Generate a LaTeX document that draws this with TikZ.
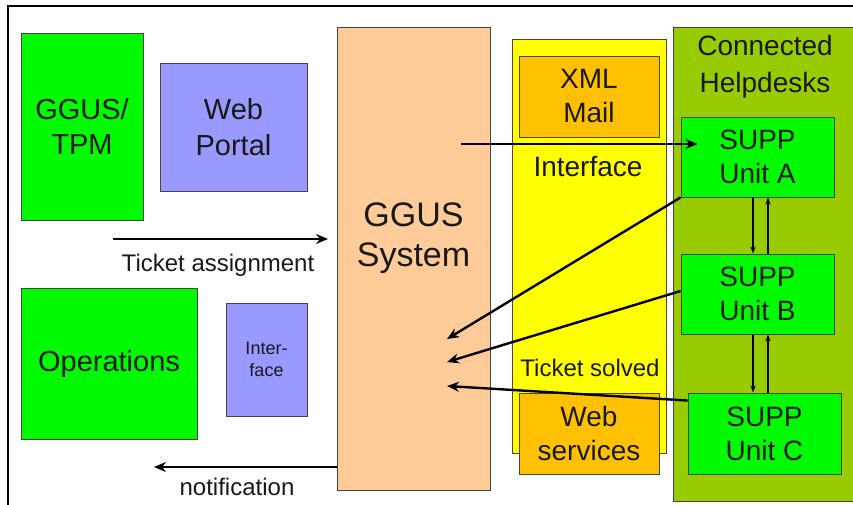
\documentclass[tikz,border=0pt]{standalone}
\usepackage{fontspec}
\setmainfont{Liberation Sans}
\usetikzlibrary{arrows.meta,calc}
\definecolor{brightgreen}{RGB}{0,250,0}
\definecolor{lav}{RGB}{153,153,255}
\definecolor{peach}{RGB}{255,204,153}
\definecolor{yel}{RGB}{255,255,0}
\definecolor{amber}{RGB}{255,192,0}
\definecolor{olivebg}{RGB}{153,204,0}
\definecolor{edge}{RGB}{70,70,60}
\newcommand{\fs}[2]{\fontsize{#1}{#2}\selectfont}
\begin{document}
\begin{tikzpicture}[x=1pt,y=-1pt,
  bx/.style={draw=edge, line width=0.9pt, inner sep=0pt, align=center, text=black!90},
  lbl/.style={inner sep=0pt, align=center, text=black!90},
  arr/.style={draw=black, line width=2.4pt, -{Stealth[length=12pt,width=10pt]}},
  thinarr/.style={draw=black, line width=1.5pt, -{Stealth[length=7pt,width=5pt]}}]
\clip (0,0) rectangle (853,505);
\fill[white] (0,0) rectangle (853,505);
% frame
\draw[line width=2pt] (8,505) -- (8,6) -- (860,6);
% left side
\node[bx, fill=brightgreen, minimum width=122pt, minimum height=187pt, font=\fs{29}{35}] (tpm) at (82,126.5) {GGUS/\\TPM};
\node[bx, fill=lav, minimum width=147pt, minimum height=128pt, font=\fs{29}{36}] (portal) at (233.5,127) {Web\\Portal};
\node[bx, fill=brightgreen, minimum width=176pt, minimum height=151pt, font=\fs{29}{34}] (ops) at (109,363.5) {Operations};
\node[bx, fill=lav, minimum width=81pt, minimum height=113pt, font=\fs{18}{22}] (intf) at (266.5,359.5) {Inter-\\face};
% GGUS system
\node[bx, fill=peach, minimum width=153pt, minimum height=463pt] (ggus) at (413.5,258.5) {};
\node[lbl, font=\fs{34}{40}] (gguslbl) at (413.5,238) {GGUS\\System};
% interface column
\node[bx, fill=yel, minimum width=154pt, minimum height=414pt] (yel) at (589,246) {};
\node[bx, fill=amber, minimum width=140pt, minimum height=81pt, font=\fs{28}{34}] (xml) at (589,96.5) {XML\\Mail};
\node[lbl, font=\fs{28}{33}] (iflbl) at (588,167) {Interface};
\node[lbl, font=\fs{24}{28}] (solved) at (590,368) {Ticket solved};
\node[bx, fill=amber, minimum width=140pt, minimum height=81pt, font=\fs{28}{34}] (ws) at (589,433.5) {Web\\services};
% connected helpdesks
\node[bx, fill=olivebg, minimum width=200pt, minimum height=474pt] (hd) at (773,264) {};
\node[lbl, font=\fs{28}{37}] (hdlbl) at (765,67) {Connected\\Helpdesks};
\node[bx, fill=brightgreen, minimum width=153pt, minimum height=80pt, font=\fs{28}{34}] (A) at (757.5,157) {SUPP\\Unit A};
\node[bx, fill=brightgreen, minimum width=153pt, minimum height=80pt, font=\fs{28}{34}] (B) at (757.5,294) {SUPP\\Unit B};
\node[bx, fill=brightgreen, minimum width=153pt, minimum height=81pt, font=\fs{28}{34}] (C) at (764.5,433.5) {SUPP\\Unit C};
% labels
\node[lbl, font=\fs{24}{28}] (talbl) at (218,265) {Ticket assignment};
\node[lbl, font=\fs{24}{28}] (notlbl) at (237,487) {notification};
% coordinates
\coordinate (taS) at (113,239);
\coordinate (taE) at (328,239);
\coordinate (notE) at (154,467);
\coordinate (outS) at (461,144);
\coordinate (t1) at (447,339);
\coordinate (t2) at (447,362);
\coordinate (t3) at (447,386);
% arrows
\draw[arr] (taS) -- (taE);
\draw[arr] (ggus.west |- notE) -- (notE);
\draw[arr] (outS) -- ([xshift=17pt,yshift=13pt]A.west);
\draw[arr] (A.south west) -- (t1);
\draw[arr] ([yshift=3pt]B.west) -- (t2);
\draw[arr] ([yshift=-8pt]C.north west) -- (t3);
\draw[thinarr] ([xshift=-4.5pt]A.south) -- ([xshift=-4.5pt]B.north);
\draw[thinarr] ([xshift=10.5pt]B.north) -- ([xshift=10.5pt]A.south);
\draw[thinarr] ([xshift=-4.5pt]B.south) -- ([xshift=-4.5pt]B.south |- C.north);
\draw[thinarr] ([xshift=10.5pt]B.south |- C.north) -- ([xshift=10.5pt]B.south);
\end{tikzpicture}
\end{document}
